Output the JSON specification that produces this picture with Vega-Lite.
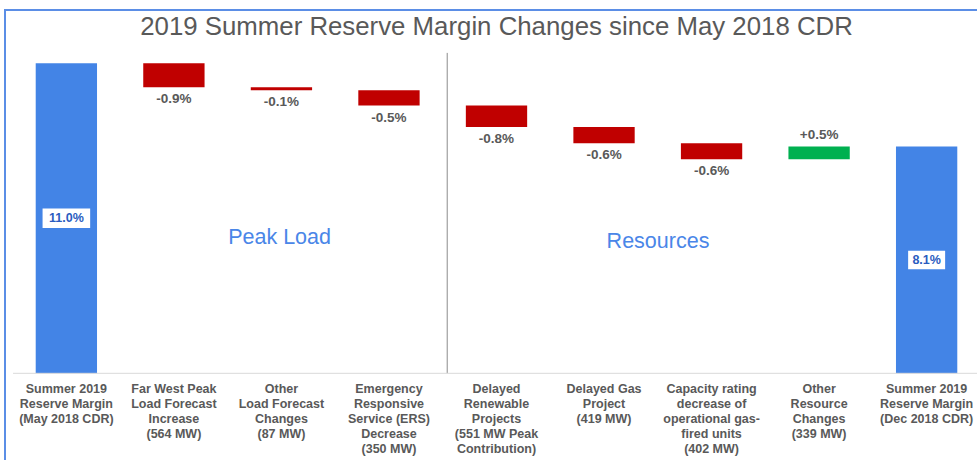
{
  "$schema": "https://vega.github.io/schema/vega-lite/v6.json",
  "width": 983,
  "height": 460,
  "autosize": {"type": "none"},
  "padding": {"left": 5, "top": 10, "right": -11, "bottom": -10},
  "background": "white",
  "config": {
    "font": "Liberation Sans",
    "view": {"stroke": "#5b8ee6", "strokeWidth": 2},
    "axisX": {
      "title": null,
      "orient": "bottom",
      "offset": -97,
      "domain": false,
      "ticks": false,
      "grid": false,
      "labelAngle": 0,
      "labelPadding": 9,
      "labelBaseline": "top",
      "labelFont": "Liberation Sans",
      "labelFontSize": 12.5,
      "labelFontWeight": "bold",
      "labelColor": "#595959",
      "labelLineHeight": 15.2,
      "labelLimit": 0,
      "labelBound": false,
      "labelOverlap": false,
      "labelExpr": "split(datum.label, '|')"
    }
  },
  "title": {
    "text": "2019 Summer Reserve Margin Changes since May 2018 CDR",
    "fontSize": 25.8,
    "font": "Liberation Sans",
    "fontWeight": "normal",
    "color": "#595959",
    "anchor": "middle",
    "frame": "group",
    "offset": -51,
    "baseline": "alphabetic"
  },
  "data": {
    "values": [
      {"cat": "Summer 2019|Reserve Margin|(May 2018 CDR)", "start": 0, "end": 11.0, "type": "total", "lbl": "11.0%"},
      {"cat": "Far West Peak|Load Forecast|Increase|(564 MW)", "start": 11.0, "end": 10.15, "type": "decrease", "lbl": "-0.9%"},
      {"cat": "Other|Load Forecast|Changes|(87 MW)", "start": 10.15, "end": 10.04, "type": "decrease", "lbl": "-0.1%"},
      {"cat": "Emergency|Responsive|Service (ERS)|Decrease|(350 MW)", "start": 10.04, "end": 9.5, "type": "decrease", "lbl": "-0.5%"},
      {"cat": "Delayed|Renewable|Projects|(551 MW Peak|Contribution)", "start": 9.5, "end": 8.74, "type": "decrease", "lbl": "-0.8%"},
      {"cat": "Delayed Gas|Project|(419 MW)", "start": 8.74, "end": 8.16, "type": "decrease", "lbl": "-0.6%"},
      {"cat": "Capacity rating|decrease of|operational gas-|fired units|(402 MW)", "start": 8.16, "end": 7.6, "type": "decrease", "lbl": "-0.6%"},
      {"cat": "Other|Resource|Changes|(339 MW)", "start": 7.6, "end": 8.05, "type": "increase", "lbl": "+0.5%"},
      {"cat": "Summer 2019|Reserve Margin|(Dec 2018 CDR)", "start": 0, "end": 8.05, "type": "total", "lbl": "8.1%"}
    ]
  },
  "layer": [
    {
      "mark": {"type": "bar"},
      "encoding": {
        "x": {
          "field": "cat",
          "type": "nominal",
          "sort": null,
          "title": null,
          "scale": {
            "domain": [
              "Summer 2019|Reserve Margin|(May 2018 CDR)",
              "Far West Peak|Load Forecast|Increase|(564 MW)",
              "Other|Load Forecast|Changes|(87 MW)",
              "Emergency|Responsive|Service (ERS)|Decrease|(350 MW)",
              "Delayed|Renewable|Projects|(551 MW Peak|Contribution)",
              "Delayed Gas|Project|(419 MW)",
              "Capacity rating|decrease of|operational gas-|fired units|(402 MW)",
              "Other|Resource|Changes|(339 MW)",
              "Summer 2019|Reserve Margin|(Dec 2018 CDR)"
            ],
            "paddingInner": 0.4298,
            "paddingOuter": 0.2856
          }
        },
        "y": {
          "field": "start",
          "type": "quantitative",
          "scale": {"domain": [-3.431, 12.892], "nice": false, "zero": false},
          "axis": null
        },
        "y2": {"field": "end"},
        "color": {
          "field": "type",
          "type": "nominal",
          "scale": {"domain": ["total", "decrease", "increase"], "range": ["#4384e6", "#c00000", "#00b050"]},
          "legend": null
        }
      }
    },
    {
      "data": {"values": [{}]},
      "mark": {"type": "rule", "color": "#8c8c8c", "strokeWidth": 1},
      "encoding": {
        "x": {"datum": "Emergency|Responsive|Service (ERS)|Decrease|(350 MW)", "type": "nominal", "bandPosition": 1.45, "title": null},
        "y": {"datum": 11.37, "type": "quantitative", "axis": null},
        "y2": {"datum": 0}
      }
    },
    {
      "data": {"values": [{}]},
      "mark": {"type": "rule", "color": "#d9d9d9", "strokeWidth": 1},
      "encoding": {
        "x": {"datum": "Summer 2019|Reserve Margin|(May 2018 CDR)", "type": "nominal", "bandPosition": -0.37, "title": null},
        "x2": {"datum": "Summer 2019|Reserve Margin|(Dec 2018 CDR)", "bandPosition": 2},
        "y": {"datum": 0, "type": "quantitative", "axis": null}
      }
    },
    {
      "transform": [{"filter": "datum.type === 'decrease'"}],
      "mark": {"type": "text", "fontWeight": "bold", "fontSize": 13.5, "color": "#595959", "baseline": "middle", "dy": 12},
      "encoding": {
        "x": {"field": "cat", "type": "nominal", "title": null},
        "y": {"field": "end", "type": "quantitative", "axis": null},
        "text": {"field": "lbl"}
      }
    },
    {
      "transform": [{"filter": "datum.type === 'increase'"}],
      "mark": {"type": "text", "fontWeight": "bold", "fontSize": 13.5, "color": "#595959", "baseline": "middle", "dy": -11},
      "encoding": {
        "x": {"field": "cat", "type": "nominal", "title": null},
        "y": {"field": "end", "type": "quantitative", "axis": null},
        "text": {"field": "lbl"}
      }
    },
    {
      "transform": [
        {"filter": "datum.type === 'total'"},
        {"fold": ["start", "end"], "as": ["k", "v"]}
      ],
      "mark": {"type": "point", "filled": true, "color": "white", "opacity": 1, "strokeWidth": 0},
      "encoding": {
        "x": {"field": "cat", "type": "nominal", "title": null},
        "y": {"aggregate": "mean", "field": "v", "type": "quantitative", "axis": null},
        "detail": {"field": "lbl"},
        "shape": {"condition": {"test": "datum.lbl === '11.0%'", "value": "M-1,-0.41H1V0.41H-1Z"}, "value": "M-1,-0.5H1V0.5H-1Z"},
        "size": {"condition": {"test": "datum.lbl === '11.0%'", "value": 2266}, "value": 1369}
      }
    },
    {
      "transform": [
        {"filter": "datum.type === 'total'"},
        {"fold": ["start", "end"], "as": ["k", "v"]}
      ],
      "mark": {"type": "text", "fontWeight": "bold", "fontSize": 12.5, "color": "#2a5cbf", "baseline": "middle"},
      "encoding": {
        "x": {"field": "cat", "type": "nominal", "title": null},
        "y": {"aggregate": "mean", "field": "v", "type": "quantitative", "axis": null},
        "text": {"field": "lbl"}
      }
    },
    {
      "data": {"values": [{}]},
      "mark": {"type": "text", "fontSize": 21.5, "color": "#4a86e8", "baseline": "alphabetic"},
      "encoding": {
        "x": {"datum": "Other|Load Forecast|Changes|(87 MW)", "type": "nominal", "bandPosition": 0.47, "title": null},
        "y": {"datum": 4.59, "type": "quantitative", "axis": null},
        "text": {"value": "Peak Load"}
      }
    },
    {
      "data": {"values": [{}]},
      "mark": {"type": "text", "fontSize": 21.5, "color": "#4a86e8", "baseline": "alphabetic"},
      "encoding": {
        "x": {"datum": "Delayed Gas|Project|(419 MW)", "type": "nominal", "bandPosition": 1.38, "title": null},
        "y": {"datum": 4.46, "type": "quantitative", "axis": null},
        "text": {"value": "Resources"}
      }
    }
  ]
}
